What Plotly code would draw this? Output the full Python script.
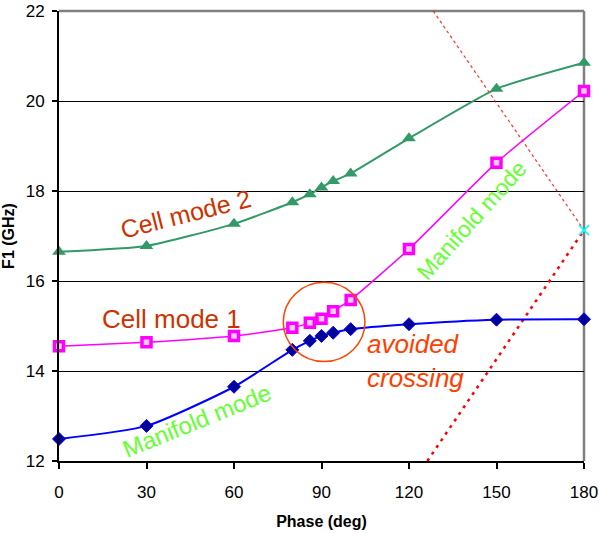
import plotly.graph_objects as go

phase = [0, 30, 60, 80, 86, 90, 94, 100, 120, 150, 180]
cell_mode_2 = [16.65, 16.78, 17.27, 17.75, 17.93, 18.08, 18.22, 18.39, 19.17, 20.27, 20.85]
cell_mode_1 = [14.55, 14.64, 14.78, 14.96, 15.07, 15.16, 15.33, 15.58, 16.71, 18.63, 20.22]
manifold = [12.49, 12.78, 13.65, 14.47, 14.67, 14.78, 14.85, 14.93, 15.04, 15.14, 15.15]

light_down_x = [128.3, 180]
light_down_y = [22.0, 17.13]
light_up_x = [126.3, 180]
light_up_y = [12.0, 17.13]
cross_x = [180]
cross_y = [17.13]

x_ticks = [0, 30, 60, 90, 120, 150, 180]
y_ticks = [12, 14, 16, 18, 20, 22]

fig = go.Figure()

fig.add_trace(go.Scatter(x=light_down_x, y=light_down_y, mode="lines",
                         line=dict(color="rgba(255,0,0,0.8)", width=1.2, dash="3px,3px"),
                         showlegend=False, hoverinfo="skip"))
fig.add_trace(go.Scatter(x=light_up_x, y=light_up_y, mode="lines",
                         line=dict(color="#FF0000", width=2.5, dash="3px,5px"),
                         showlegend=False, hoverinfo="skip"))

fig.add_trace(go.Scatter(x=phase, y=cell_mode_2, mode="lines+markers",
                         line=dict(color="#339966", width=2, shape="spline", smoothing=0.5),
                         marker=dict(symbol="triangle-up", size=12, color="#339966"),
                         showlegend=False, cliponaxis=False))
fig.add_trace(go.Scatter(x=phase, y=cell_mode_1, mode="lines+markers",
                         line=dict(color="#FF00FF", width=1.5, shape="spline", smoothing=0.5),
                         marker=dict(symbol="square", size=9, color="#FFCCFF",
                                     line=dict(color="#FF00FF", width=3.5)),
                         showlegend=False, cliponaxis=False))
fig.add_trace(go.Scatter(x=phase, y=manifold, mode="lines+markers",
                         line=dict(color="#0000FF", width=2, shape="spline", smoothing=0.6),
                         marker=dict(symbol="diamond", size=10, color="#000099",
                                     line=dict(color="#0000FF", width=1)),
                         showlegend=False, cliponaxis=False))
fig.add_trace(go.Scatter(x=cross_x, y=cross_y, mode="markers",
                         marker=dict(symbol="x-thin", size=10, color="#00FFFF",
                                     line=dict(color="#00FFFF", width=1.5)),
                         showlegend=False, cliponaxis=False))

# avoided crossing circle
fig.add_shape(type="circle", xref="x", yref="y", x0=76.9, x1=104.9, y0=14.21, y1=15.97,
              line=dict(color="#FF4500", width=1.5))
# gray top/right border
fig.add_shape(type="line", xref="paper", yref="paper", x0=0, x1=1, y0=1, y1=1,
              line=dict(color="#808080", width=2.5), layer="below")
fig.add_shape(type="line", xref="paper", yref="paper", x0=1, x1=1, y0=0, y1=1,
              line=dict(color="#808080", width=2.5), layer="below")

font_fam = "Liberation Sans, Arial, sans-serif"
annos = [
    dict(x=43.2, y=17.49, text="Cell mode 2", textangle=-14,
         font=dict(size=25, color="#CC3300", family=font_fam)),
    dict(x=38.7, y=15.16, text="Cell mode 1", textangle=0,
         font=dict(size=26, color="#CC3300", family=font_fam)),
    dict(x=104.9, y=14.22, text="avoided<br>crossing", textangle=0, xanchor="left", align="left",
         font=dict(size=26, color="#FF4000", family=font_fam, style="italic")),
    dict(x=47.3, y=12.91, text="Manifold mode", textangle=-22,
         font=dict(size=24, color="#66FF33", family=font_fam)),
    dict(x=141.5, y=17.36, text="Manifold mode", textangle=-48,
         font=dict(size=23, color="#66FF33", family=font_fam)),
]
for a in annos:
    a.update(xref="x", yref="y", showarrow=False)
    fig.add_annotation(**a)

fig.update_layout(
    width=599, height=533,
    margin=dict(l=59, r=15, t=11, b=72, autoexpand=False),
    plot_bgcolor="white", paper_bgcolor="white",
    font=dict(family=font_fam, size=17, color="black"),
    xaxis=dict(range=[0, 180], tickvals=x_ticks, ticktext=[str(v) for v in x_ticks],
               showgrid=False, zeroline=False, showline=True, linecolor="black", linewidth=2,
               ticks="outside", ticklen=6, tickwidth=1.5, tickcolor="black",
               tickfont=dict(size=17), automargin=False, ticklabelstandoff=9,
               title=dict(text="<b>Phase (deg)</b>", font=dict(size=16), standoff=14)),
    yaxis=dict(range=[12, 22], tickvals=y_ticks, ticktext=[str(v) for v in y_ticks],
               showgrid=True, gridcolor="black", gridwidth=1.2, zeroline=False,
               showline=True, linecolor="black", linewidth=2,
               ticks="outside", ticklen=5, tickwidth=1.5, tickcolor="black",
               tickfont=dict(size=17), automargin=False, ticklabelstandoff=4,
               title=dict(text="<b>F1 (GHz)</b>", font=dict(size=16), standoff=10)),
)

fig.write_html("out.html")
